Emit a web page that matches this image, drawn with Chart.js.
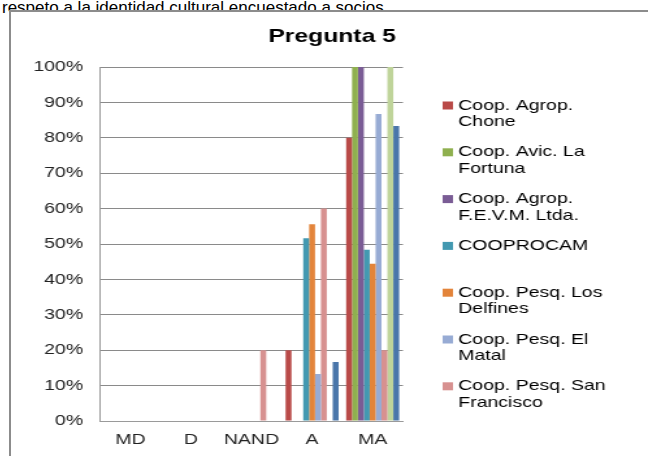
<!DOCTYPE html>
<html>
<head>
<meta charset="utf-8">
<script src="https://cdn.jsdelivr.net/npm/chart.js@4.4.1/dist/chart.umd.min.js"></script>
<style>
  body { margin: 0; width: 648px; height: 456px; overflow: hidden; background: #fff; position: relative; font-family: "Liberation Sans", Arial, sans-serif; }
  #intro { position: absolute; left: 2px; top: -1px; font-size: 17px; line-height: 18px; color: #000; white-space: nowrap; }
  #box { position: absolute; left: 9px; top: 10px; width: 700px; height: 500px; border: 2px solid #8c8c8c; background: #fff; }
  #chart { position: absolute; left: 11px; top: 12px; transform: scaleX(1.3); transform-origin: 0 0; }
</style>
</head>
<body>
<div id="intro">respeto a la identidad cultural encuestado a socios</div>
<div id="box"></div>
<canvas id="chart" width="494" height="444"></canvas>
<script>
const chartTitle = 'Pregunta 5';
const categories = ['MD', 'D', 'NAND', 'A', 'MA'];

const seriesNames = [
    'Coop. Agrop. Chone',
    'Coop. Avic. La Fortuna',
    'Coop. Agrop. F.E.V.M. Ltda.',
    'COOPROCAM',
    'Coop. Pesq. Los Delfines',
    'Coop. Pesq. El Matal',
    'Coop. Pesq. San Francisco',
    'Serie 8',
    'Serie 9'
];

// porcentajes por categoria (MD, D, NAND, A, MA)
const chone = [0, 0, 0, 20, 80];
const fortuna = [0, 0, 0, 0, 100];
const fevm = [0, 0, 0, 0, 100];
const cooprocam = [0, 0, 0, 51.6, 48.4];
const delfines = [0, 0, 0, 55.6, 44.4];
const matal = [0, 0, 0, 13.3, 86.7];
const sanFrancisco = [0, 0, 20, 60, 20];
const serie8 = [0, 0, 0, 0, 100];
const serie9 = [0, 0, 0, 16.7, 83.3];

const seriesValues = [chone, fortuna, fevm, cooprocam, delfines, matal, sanFrancisco, serie8, serie9];
const colors = ['#b94a48', '#8fb04f', '#7a5c95', '#4399b1', '#e3843a', '#97abd4', '#d79190', '#bfd49a', '#4a76aa'];

const legendShown = 7;
const FONT = '"Liberation Sans", Arial, sans-serif';

// titulo y leyenda a la derecha, como en el grafico de Excel
const sideLegend = {
    id: 'sideLegend',
    afterDraw(chart) {
        const ctx = chart.ctx;
        ctx.save();
        ctx.fillStyle = '#000';
        ctx.textAlign = 'center';
        ctx.textBaseline = 'middle';
        ctx.font = 'bold 19px ' + FONT;
        ctx.fillText(chartTitle, chart.width / 2, 25);

        const x0 = 332;
        let y = 93.5;
        ctx.textAlign = 'left';
        ctx.font = '15px ' + FONT;
        for (let i = 0; i < legendShown; i++) {
            const ds = chart.data.datasets[i];
            ctx.fillStyle = ds.backgroundColor;
            ctx.fillRect(x0, y - 4, 8, 8);
            // partir el texto en lineas
            const words = ds.label.split(' ');
            let lines = [];
            let cur = '';
            for (const w of words) {
                const t = cur ? cur + ' ' + w : w;
                if (ctx.measureText(t).width > 128 && cur) {
                    lines.push(cur);
                    cur = w;
                } else {
                    cur = t;
                }
            }
            lines.push(cur);
            ctx.fillStyle = '#000';
            lines.forEach((l, j) => ctx.fillText(l, x0 + 12, y + j * 16.5));
            y += 46.8;
        }
        ctx.restore();
    }
};

new Chart(document.getElementById('chart'), {
    type: 'bar',
    data: {
        labels: categories,
        datasets: seriesValues.map((vals, i) => ({
            label: seriesNames[i],
            data: vals,
            backgroundColor: colors[i],
            borderWidth: 0,
            categoryPercentage: 0.875,
            barPercentage: 1
        }))
    },
    options: {
        responsive: false,
        animation: false,
        layout: { padding: { top: 55, left: 0, right: 192.5, bottom: 0 } },
        plugins: {
            legend: { display: false },
            tooltip: { enabled: false },
            title: { display: false }
        },
        scales: {
            x: {
                grid: { display: false, drawTicks: false },
                border: { display: true, color: '#9a9a9a', width: 1 },
                ticks: { color: '#222', padding: 10, maxRotation: 0, autoSkip: false, font: { family: FONT, size: 15 } },
                afterFit(scale) { scale.height = 35; }
            },
            y: {
                min: 0,
                max: 100,
                ticks: {
                    stepSize: 10,
                    color: '#222',
                    padding: 13,
                    font: { family: FONT, size: 15 },
                    callback: v => v + '%'
                },
                grid: { color: '#8a8a8a', lineWidth: 1, drawTicks: false },
                border: { display: true, color: '#9a9a9a', width: 1 },
                afterFit(scale) { scale.width = 68.5; }
            }
        }
    },
    plugins: [sideLegend]
});
</script>
</body>
</html>
